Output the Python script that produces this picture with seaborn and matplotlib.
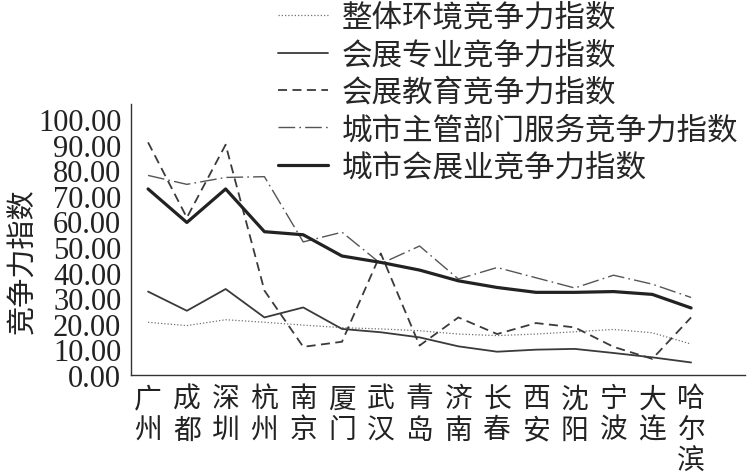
import matplotlib
matplotlib.use("Agg")
import matplotlib.pyplot as plt
import seaborn as sns
import numpy as np
import pandas as pd

cities = ["广州", "成都", "深圳", "杭州", "南京", "厦门", "武汉", "青岛",
          "济南", "长春", "西安", "沈阳", "宁波", "大连", "哈尔滨"]
env_idx = [20.6, 19.3, 21.6, 20.6, 19.5, 18.5, 18.0, 17.3, 16.0, 15.4, 16.0, 16.9, 17.8, 16.5, 12.1]
pro_idx = [32.6, 25.1, 33.6, 22.5, 26.4, 18.0, 16.7, 14.7, 11.2, 9.1, 9.9, 10.2, 8.6, 6.9, 4.9]
edu_idx = [90.9, 61.5, 90.0, 33.0, 11.0, 13.0, 47.5, 11.5, 22.5, 16.0, 20.3, 18.6, 11.0, 6.3, 22.5]
gov_idx = [78.0, 74.5, 77.2, 77.5, 52.0, 55.8, 43.5, 50.4, 37.5, 42.0, 38.0, 34.0, 39.0, 35.5, 30.3]
city_idx = [72.7, 59.6, 72.7, 56.0, 54.8, 46.5, 44.0, 41.0, 36.8, 34.2, 32.3, 32.3, 32.6, 31.5, 26.2]
series_names = ["整体环境竞争力指数", "会展专业竞争力指数", "会展教育竞争力指数",
                "城市主管部门服务竞争力指数", "城市会展业竞争力指数"]
yticks = [0, 10, 20, 30, 40, 50, 60, 70, 80, 90, 100]

sns.set_theme(style="white")
plt.rcParams['font.family'] = ['Liberation Serif', 'Noto Sans CJK SC', 'DejaVu Sans']

fig = plt.figure(figsize=(7.54, 4.77), dpi=100)
ax = fig.add_axes([131/754, 1-376/477, (745-131)/754, (376-105)/477])

x = np.arange(len(cities))
styles = [
    dict(color="#707070", linewidth=0.9, linestyle=(0, (1, 1.6))),
    dict(color="#3a3a3a", linewidth=1.3, linestyle="-"),
    dict(color="#3a3a3a", linewidth=1.3, linestyle=(0, (5, 3))),
    dict(color="#555555", linewidth=1.0, linestyle=(0, (12, 3, 1.2, 3))),
    dict(color="#222222", linewidth=2.3, linestyle="-"),
]
data = [env_idx, pro_idx, edu_idx, gov_idx, city_idx]
for name, vals, st in zip(series_names, data, styles):
    df = pd.DataFrame({"x": x, "y": vals})
    sns.lineplot(data=df, x="x", y="y", ax=ax, label=name, **st)

ax.set_xlim(-0.44, 15.39)
ax.set_ylim(0, 105.9)
ax.set_yticks(yticks)
ax.set_yticklabels([f"{v:.2f}" for v in yticks], fontsize=22, color="#222222")
ax.set_xticks(x)
ax.set_xticklabels(["\n".join(c) for c in cities], fontsize=20, color="#222222",
                   linespacing=1.05, family=['Noto Sans CJK SC'])
ax.tick_params(axis="both", direction="in", length=5, width=1, color="#333333")
ax.tick_params(axis="y", pad=7)
ax.tick_params(axis="x", pad=6)
for s in ["top", "right"]:
    ax.spines[s].set_visible(False)
for s in ["left", "bottom"]:
    ax.spines[s].set_color("#333333")
    ax.spines[s].set_linewidth(1.0)
ax.set_xlabel("")
ax.set_ylabel("竞争力指数", fontsize=21, color="#222222", family=['Noto Sans CJK SC'])
ax.yaxis.set_label_coords(-0.150, 0.425)

handles, labels = ax.get_legend_handles_labels()
ax.get_legend().remove()
fig.legend(handles, labels, loc="upper left", bbox_to_anchor=(278/754, 0.994),
           frameon=False, handlelength=1.64, handletextpad=0.46,
           labelspacing=0.21, borderpad=0, borderaxespad=0,
           prop={'family': ['Noto Sans CJK SC'], 'size': 22})

fig.savefig("out.png", dpi=100)
